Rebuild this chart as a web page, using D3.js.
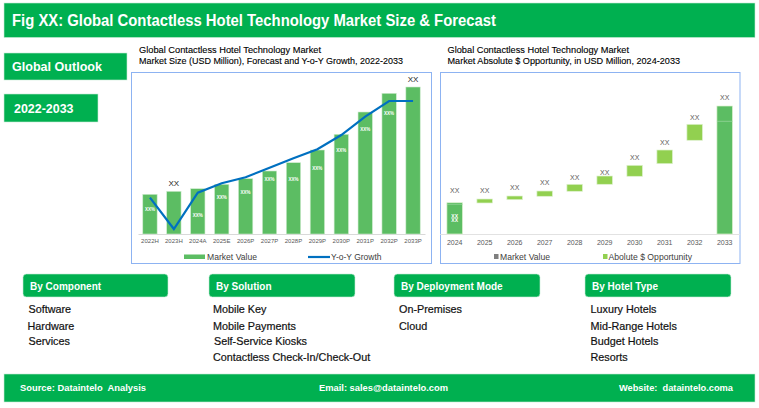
<!DOCTYPE html>
<html>
<meta charset="utf-8">
<script src="https://d3js.org/d3.v7.js"></script>
<style>
  body { margin: 0; background: #fff; }
  text { font-family: "Liberation Sans", Arial, sans-serif; }
</style>
<body>
<div id="my_dataviz"></div>
</body>
<script type="text/javascript">
  // left chart
  var sizeYears = ["2022H","2023H","2024A","2025E","2026P","2027P","2028P","2029P","2030P","2031P","2032P","2033P"]
  var marketValue = [39.7,42.7,45.3,49.7,55.3,63,71.3,84,99.7,122,140.7,147]
  var yoyGrowth = [36.3,5,41.3,50.7,56.7,66.3,75.7,84.7,99,117.3,133,133]
  var pctLabelAt = [25,null,19,37,42,55,55,66,84,105,121,null]
  var topLabels = ["","XX","","","","","","","","","","XX"]

  // right chart
  var oppYears = ["2024","2025","2026","2027","2028","2029","2030","2031","2032","2033"]
  var oppStart = [0,31,34.3,37.7,42.7,49.7,57.7,70.3,93.7,0]
  var oppEnd = [31.3,35,38,43,49.7,58,68.7,84,109.7,128]
  var oppSplit = [29.7,null,null,null,null,null,null,null,null,112.7]
  var oppLabelAt = [43.5,43.5,46.5,51.5,56.5,61.5,76.5,91.5,116.5,136.5]
  var oppKind = ["value","opp","opp","opp","opp","opp","opp","opp","opp","value"]

  // segments
  var componentItems = ["Software","Hardware","Services"]
  var solutionItems = ["Mobile Key","Mobile Payments","Self-Service Kiosks","Contactless Check-In/Check-Out"]
  var deploymentItems = ["On-Premises","Cloud"]
  var hotelItems = ["Luxury Hotels","Mid-Range Hotels","Budget Hotels","Resorts"]

  var GREEN = "#00B050", BAR = "#5CBD63", OPP = "#92D050", BLUE = "#0070C0", FRAME = "#8DB3F2"

  var svg = d3.select("#my_dataviz").append("svg")
    .attr("width", 759).attr("height", 408).style("display", "block")

  function box(x, y, w, h, r) {
    return svg.append("rect").attr("x", x).attr("y", y).attr("width", w).attr("height", h)
      .attr("rx", r || 0).attr("fill", GREEN).attr("stroke", "#c8ecd6").attr("stroke-width", 0.6)
  }
  function label(x, y, txt, size, color, weight, len) {
    var t = svg.append("text").attr("x", x).attr("y", y).text(txt)
      .attr("font-size", size).attr("fill", color || "#000").attr("font-weight", weight || "normal")
      .style("white-space", "pre")
    // squeeze to the width measured on the picture
    if (len) t.attr("textLength", len).attr("lengthAdjust", "spacingAndGlyphs")
    return t
  }

  // banners
  box(4, 3, 751, 34.5)
  label(12, 25.5, "Fig XX: Global Contactless Hotel Technology Market Size & Forecast", 16, "#fff", "bold", 484)
  box(4, 53, 123, 27)
  label(12, 71, "Global Outlook", 13.5, "#fff", "bold", 90)
  box(4, 94, 94, 28)
  label(14, 113, "2022-2033", 13.5, "#fff", "bold", 59.5)

  // chart titles
  label(139, 53, "Global Contactless Hotel Technology Market", 9, "#000", "normal", 182).attr("stroke", "#000").attr("stroke-width", 0.12)
  label(139, 64, "Market Size (USD Million), Forecast and Y-o-Y Growth, 2022-2033", 9, "#000", "normal", 264).attr("stroke", "#000").attr("stroke-width", 0.12)
  label(447.5, 53, "Global Contactless Hotel Technology Market", 9, "#000", "normal", 181.5).attr("stroke", "#000").attr("stroke-width", 0.12)
  label(447.5, 64, "Market Absolute $ Opportunity, in USD Million, 2024-2033", 9, "#000", "normal", 232.5).attr("stroke", "#000").attr("stroke-width", 0.12)

  // frames
  svg.append("rect").attr("x", 131.5).attr("y", 72.5).attr("width", 300).attr("height", 191)
    .attr("fill", "#fff").attr("stroke", FRAME).attr("stroke-width", 1)
  svg.append("rect").attr("x", 440.5).attr("y", 72.5).attr("width", 299.5).attr("height", 191)
    .attr("fill", "#fff").attr("stroke", FRAME).attr("stroke-width", 1)

  // ---- left chart
  var x1 = d3.scaleBand().domain(sizeYears).range([138, 425]).paddingInner(0.4).paddingOuter(0.2)
  var y1 = d3.scaleLinear().domain([0, 160]).range([234, 74])

  var ax1 = svg.append("g").attr("transform", "translate(0,234)")
    .call(d3.axisBottom(x1).tickSize(0).tickPadding(5))
  ax1.select(".domain").attr("stroke", "#d9d9d9")
  ax1.selectAll("text").attr("font-size", 6).attr("fill", "#595959")
    .style("font-family", "'Liberation Sans'")

  svg.selectAll(".size-bar").data(sizeYears).enter().append("rect")
    .attr("class", "size-bar")
    .attr("x", d => x1(d))
    .attr("y", (d, i) => y1(marketValue[i]))
    .attr("width", x1.bandwidth())
    .attr("height", (d, i) => y1(0) - y1(marketValue[i]))
    .attr("fill", BAR).attr("stroke", "#cfeccf").attr("stroke-width", 0.6)

  var line = d3.line()
    .x((d, i) => x1(sizeYears[i]) + x1.bandwidth() / 2)
    .y(d => y1(d))
  svg.append("path").datum(yoyGrowth).attr("d", line)
    .attr("fill", "none").attr("stroke", BLUE).attr("stroke-width", 2.2)

  sizeYears.forEach(function(d, i) {
    var cx = x1(d) + x1.bandwidth() / 2
    if (pctLabelAt[i] !== null) {
      label(cx, y1(pctLabelAt[i]) + 1.5, "XX%", 4.5, "#fff", "bold").attr("text-anchor", "middle")
    }
    if (topLabels[i]) {
      label(cx, y1(marketValue[i]) - 5.5, topLabels[i], 8, "#222").attr("text-anchor", "middle")
    }
  })

  // left legend
  svg.append("rect").attr("x", 184).attr("y", 254.5).attr("width", 21).attr("height", 4.5).attr("fill", BAR)
  label(207, 260, "Market Value", 8.8, "#404040", "normal", 50)
  svg.append("line").attr("x1", 308).attr("x2", 330).attr("y1", 257).attr("y2", 257)
    .attr("stroke", BLUE).attr("stroke-width", 2.2)
  label(331, 260, "Y-o-Y Growth", 8.8, "#404040", "normal", 50.5)

  // ---- right chart
  var x2 = d3.scaleBand().domain(oppYears).range([439.7, 739.7]).paddingInner(0.48).paddingOuter(0.24)
  var y2 = d3.scaleLinear().domain([0, 160]).range([234, 74])

  var ax2 = svg.append("g").attr("transform", "translate(0,234)")
    .call(d3.axisBottom(x2).tickSize(0).tickPadding(6))
  ax2.select(".domain").attr("stroke", "#e2e2e2")
  ax2.selectAll("text").attr("font-size", 7).attr("fill", "#595959")
    .style("font-family", "'Liberation Sans'")

  svg.selectAll(".opp-bar").data(oppYears).enter().append("rect")
    .attr("class", "opp-bar")
    .attr("x", d => x2(d))
    .attr("y", (d, i) => y2(oppEnd[i]))
    .attr("width", x2.bandwidth())
    .attr("height", (d, i) => y2(oppStart[i]) - y2(oppEnd[i]))
    .attr("fill", (d, i) => oppKind[i] === "value" ? BAR : OPP)
    .attr("stroke", "#dff2d0").attr("stroke-width", 0.7)

  oppYears.forEach(function(d, i) {
    var cx = x2(d) + x2.bandwidth() / 2
    label(cx, y2(oppLabelAt[i]) + 2.5, "XX", 7, "#595959").attr("text-anchor", "middle")
    if (oppSplit[i] !== null) {
      svg.append("line").attr("x1", x2(d)).attr("x2", x2(d) + x2.bandwidth())
        .attr("y1", y2(oppSplit[i])).attr("y2", y2(oppSplit[i]))
        .attr("stroke", "#9ed8a2").attr("stroke-width", 0.7)
    }
  })
  // white value label stacked inside the first bar
  var cx0 = x2("2024") + x2.bandwidth() / 2
  label(cx0, y2(oppEnd[0] / 2) - 0.5, "XX", 5, "#fff", "bold").attr("text-anchor", "middle")
  label(cx0, y2(oppEnd[0] / 2) + 4, "XX", 5, "#fff", "bold").attr("text-anchor", "middle")

  // right legend
  svg.append("rect").attr("x", 494).attr("y", 254).attr("width", 4.5).attr("height", 5).attr("fill", "#7f7f7f")
  label(500, 259.5, "Market Value", 8.8, "#404040", "normal", 50)
  svg.append("rect").attr("x", 603).attr("y", 254).attr("width", 4.5).attr("height", 5).attr("fill", OPP)
  label(608.5, 259.5, "Abolute $ Opportunity", 8.8, "#404040", "normal", 83.5)

  // ---- segment panels
  var panels = [
    {title: "By Component", x: 23, w: 145, tx: 30, items: componentItems, ix: [28.5, 27.5, 28.5]},
    {title: "By Solution", x: 209, w: 146, tx: 216, items: solutionItems, ix: [213, 213, 214, 213]},
    {title: "By Deployment Mode", x: 394, w: 146, tx: 401, items: deploymentItems, ix: [399, 399]},
    {title: "By Hotel Type", x: 585, w: 146, tx: 592, items: hotelItems, ix: [590.5, 590.5, 590.5, 590.5]}
  ]
  var itemY = [313, 330, 345, 361]
  panels.forEach(function(p) {
    box(p.x, 274, p.w, 23, 3.5)
    label(p.tx, 290, p.title, 10, "#fff", "bold")
    p.items.forEach(function(t, i) {
      label(p.ix[i], itemY[i], t, 10.8, "#111")
        .attr("stroke", "#111").attr("stroke-width", 0.2)
    })
  })

  // footer
  box(4, 374, 751, 28)
  label(20, 391, "Source: Dataintelo  Analysis", 9.5, "#fff", "bold", 126)
  label(319, 391, "Email: sales@dataintelo.com", 9.5, "#fff", "bold", 129)
  label(619, 391, "Website:  dataintelo.coma", 9.5, "#fff", "bold", 114)
</script>
</html>
